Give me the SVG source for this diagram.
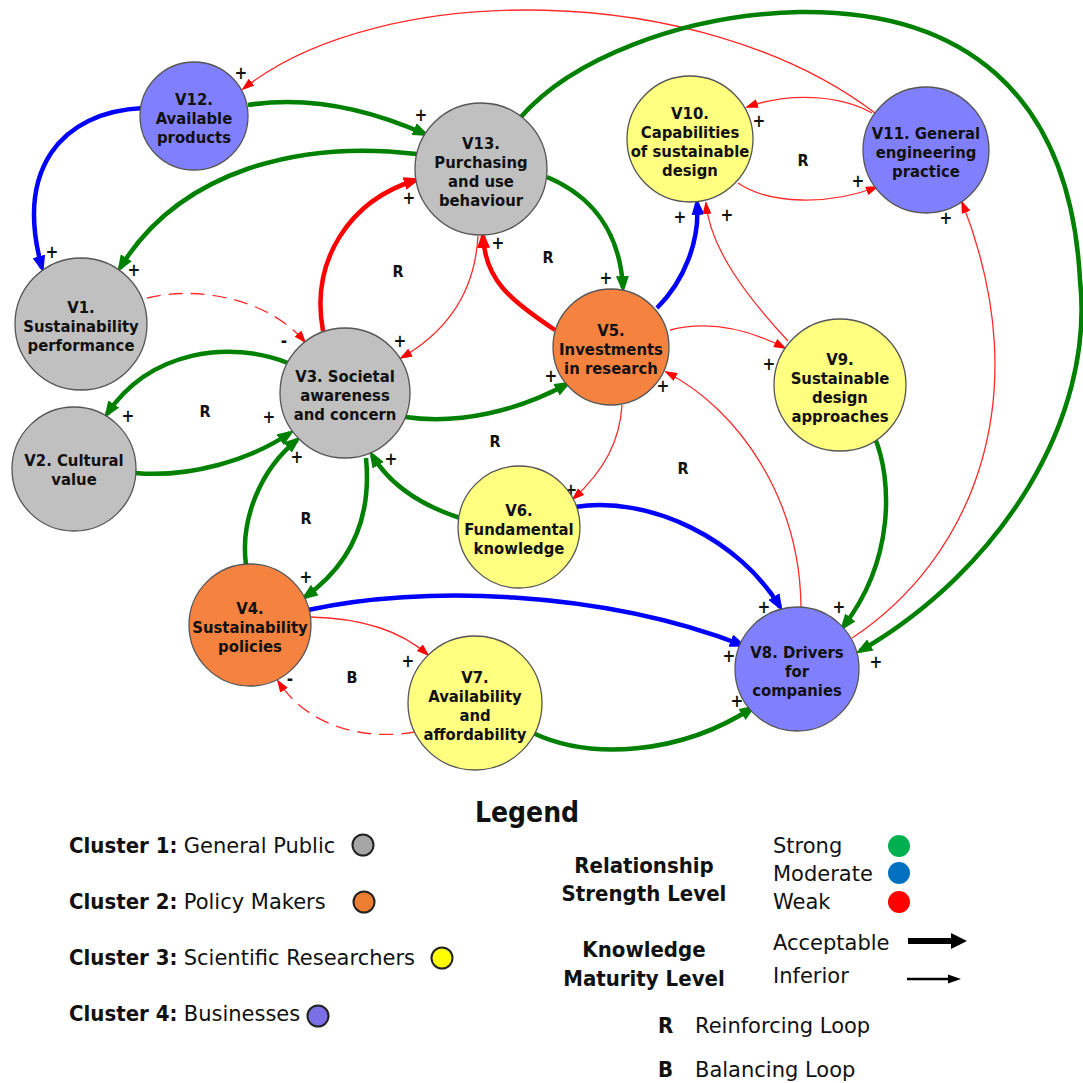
<svg xmlns="http://www.w3.org/2000/svg" width="1083" height="1083" viewBox="0 0 1083 1083">
<style>
.n{stroke:#555;stroke-width:1.3}
.gp{fill:#c0c0c0}.pm{fill:#f5823f}.sr{fill:#ffff80}.bu{fill:#8080ff}
text{font-family:"DejaVu Sans Condensed","DejaVu Sans",sans-serif;font-stretch:condensed;fill:#111}
.nt{font-size:16.5px;font-weight:bold;text-anchor:middle}
.s{font-size:17px;font-weight:bold;text-anchor:middle}
.lp{font-size:16px;font-weight:bold;text-anchor:middle}
.c{fill:none}
.G{stroke:#008000;stroke-width:4.5;marker-end:url(#mg)}
.B{stroke:#0000ff;stroke-width:4.5;marker-end:url(#mb)}
.Rk{stroke:#ff0000;stroke-width:4.5;marker-end:url(#mr)}
.r{stroke:#ff2a2a;stroke-width:1.3;marker-end:url(#mt)}
.d{stroke-dasharray:14,8}
.lg{font-size:22px}
.ln{font-family:"DejaVu Sans",sans-serif;font-stretch:normal;font-size:21px;font-weight:normal}
.b{font-weight:bold}
.lc{stroke:#222;stroke-width:2}
</style>
<defs>
<marker id="mg" markerWidth="18" markerHeight="13" refX="12" refY="6.5" orient="auto" markerUnits="userSpaceOnUse"><path d="M0,0 L17,6.5 L0,13 z" fill="#008000"/></marker>
<marker id="mb" markerWidth="18" markerHeight="13" refX="12" refY="6.5" orient="auto" markerUnits="userSpaceOnUse"><path d="M0,0 L17,6.5 L0,13 z" fill="#0000ff"/></marker>
<marker id="mr" markerWidth="18" markerHeight="13" refX="12" refY="6.5" orient="auto" markerUnits="userSpaceOnUse"><path d="M0,0 L17,6.5 L0,13 z" fill="#ff0000"/></marker>
<marker id="mt" markerWidth="13" markerHeight="9" refX="11" refY="4.5" orient="auto" markerUnits="userSpaceOnUse"><path d="M0,0 L13,4.5 L0,9 z" fill="#ff0000"/></marker>
</defs>
<rect width="1083" height="1083" fill="#ffffff"/>

<g id="connectors" class="c">
<path class="r" d="M875,113 C700,-20 380,-20 243,89"/>
<path class="G" d="M248,105 Q330,92 425,134"/>
<path class="B" d="M143,108 C60,112 15,170 42,268"/>
<path class="G" d="M417,154 C300,140 180,170 120,268"/>
<path class="G" d="M520,118 C570,60 680,15 800,12 C960,10 1070,90 1080,280 C1095,420 1000,570 860,651"/>
<path class="G" d="M547,177 C590,195 620,230 623,288"/>
<path class="Rk" d="M555,330 C510,300 485,280 483,236"/>
<path class="r" d="M478,236 C475,290 450,330 401,358"/>
<path class="Rk" d="M323,331 C310,260 350,200 416,180"/>
<path class="r d" d="M147,298 C200,285 270,300 305,342"/>
<path class="G" d="M288,363 C230,340 150,350 107,414"/>
<path class="G" d="M135,473 C190,478 250,460 290,433"/>
<path class="G" d="M246,565 C240,520 260,470 297,440"/>
<path class="G" d="M366,458 C372,520 350,565 305,597"/>
<path class="G" d="M405,417 C460,425 520,410 567,384"/>
<path class="G" d="M460,518 C420,505 390,485 372,455"/>
<path class="r" d="M622,405 C620,440 605,470 573,499"/>
<path class="B" d="M657,308 C685,280 700,240 697,203"/>
<path class="r" d="M670,330 C710,320 750,330 785,348"/>
<path class="r" d="M788,341 C750,300 710,250 706,203"/>
<path class="r" d="M872,113 C840,95 790,92 747,107"/>
<path class="r" d="M738,183 C770,205 830,205 877,187"/>
<path class="r" d="M852,638 C970,560 1040,400 962,202"/>
<path class="r" d="M801,607 C800,500 740,410 666,372"/>
<path class="B" d="M575,507 C650,495 740,540 780,607"/>
<path class="B" d="M308,610 C420,585 600,590 742,645"/>
<path class="r" d="M310,617 C360,618 400,630 428,655"/>
<path class="r d" d="M415,732 C370,740 310,730 278,681"/>
<path class="G" d="M533,733 C590,760 680,755 752,708"/>
<path class="G" d="M875,438 C892,480 895,560 843,627"/>
</g>

<g id="polarity">
<text class="s" x="241" y="79">+</text>
<text class="s" x="421" y="121">+</text>
<text class="s" x="52" y="258">+</text>
<text class="s" x="134" y="276">+</text>
<text class="s" x="409" y="204">+</text>
<text class="s" x="498" y="249">+</text>
<text class="s" x="606" y="284">+</text>
<text class="s" x="400" y="347">+</text>
<text class="s" x="284" y="347">-</text>
<text class="s" x="128" y="422">+</text>
<text class="s" x="269" y="423">+</text>
<text class="s" x="297" y="463">+</text>
<text class="s" x="391" y="465">+</text>
<text class="s" x="551" y="382">+</text>
<text class="s" x="663" y="392">+</text>
<text class="s" x="571" y="496">+</text>
<text class="s" x="680" y="223">+</text>
<text class="s" x="727" y="221">+</text>
<text class="s" x="759" y="127">+</text>
<text class="s" x="858" y="187">+</text>
<text class="s" x="946" y="224">+</text>
<text class="s" x="769" y="370">+</text>
<text class="s" x="306" y="583">+</text>
<text class="s" x="408" y="667">+</text>
<text class="s" x="290" y="685">-</text>
<text class="s" x="764" y="613">+</text>
<text class="s" x="839" y="613">+</text>
<text class="s" x="729" y="662">+</text>
<text class="s" x="737" y="707">+</text>
<text class="s" x="876" y="668">+</text>
</g>

<g id="loops">
<text class="lp" x="398" y="277">R</text>
<text class="lp" x="548" y="263">R</text>
<text class="lp" x="205" y="417">R</text>
<text class="lp" x="495" y="447">R</text>
<text class="lp" x="683" y="474">R</text>
<text class="lp" x="306" y="524">R</text>
<text class="lp" x="803" y="166">R</text>
<text class="lp" x="352" y="683">B</text>
</g>

<g id="V12"><circle class="n bu" cx="194" cy="116" r="54"/><text class="nt"><tspan x="194" y="105">V12.</tspan><tspan x="194" y="124">Available</tspan><tspan x="194" y="143">products</tspan></text></g>
<g id="V13"><circle class="n gp" cx="481" cy="169" r="66"/><text class="nt"><tspan x="481" y="148.5">V13.</tspan><tspan x="481" y="167.5">Purchasing</tspan><tspan x="481" y="186.5">and use</tspan><tspan x="481" y="205.5">behaviour</tspan></text></g>
<g id="V10"><circle class="n sr" cx="690" cy="139" r="63"/><text class="nt"><tspan x="690" y="118.5">V10.</tspan><tspan x="690" y="137.5">Capabilities</tspan><tspan x="690" y="156.5">of sustainable</tspan><tspan x="690" y="175.5">design</tspan></text></g>
<g id="V11"><circle class="n bu" cx="926" cy="150" r="63"/><text class="nt"><tspan x="926" y="139">V11. General</tspan><tspan x="926" y="158">engineering</tspan><tspan x="926" y="177">practice</tspan></text></g>
<g id="V1"><circle class="n gp" cx="81" cy="324" r="66"/><text class="nt"><tspan x="81" y="313">V1.</tspan><tspan x="81" y="332">Sustainability</tspan><tspan x="81" y="351">performance</tspan></text></g>
<g id="V2"><circle class="n gp" cx="74" cy="469" r="62"/><text class="nt"><tspan x="74" y="466">V2. Cultural</tspan><tspan x="74" y="485">value</tspan></text></g>
<g id="V3"><circle class="n gp" cx="345" cy="393" r="65"/><text class="nt"><tspan x="345" y="382">V3. Societal</tspan><tspan x="345" y="401">awareness</tspan><tspan x="345" y="420">and concern</tspan></text></g>
<g id="V5"><circle class="n pm" cx="611" cy="347" r="58"/><text class="nt"><tspan x="611" y="336">V5.</tspan><tspan x="611" y="355">Investments</tspan><tspan x="611" y="374">in research</tspan></text></g>
<g id="V6"><circle class="n sr" cx="519" cy="527" r="61"/><text class="nt"><tspan x="519" y="516">V6.</tspan><tspan x="519" y="535">Fundamental</tspan><tspan x="519" y="554">knowledge</tspan></text></g>
<g id="V9"><circle class="n sr" cx="840" cy="385" r="66"/><text class="nt"><tspan x="840" y="364.5">V9.</tspan><tspan x="840" y="383.5">Sustainable</tspan><tspan x="840" y="402.5">design</tspan><tspan x="840" y="421.5">approaches</tspan></text></g>
<g id="V4"><circle class="n pm" cx="250" cy="625" r="61"/><text class="nt"><tspan x="250" y="614">V4.</tspan><tspan x="250" y="633">Sustainability</tspan><tspan x="250" y="652">policies</tspan></text></g>
<g id="V7"><circle class="n sr" cx="475" cy="703" r="67"/><text class="nt"><tspan x="475" y="682.5">V7.</tspan><tspan x="475" y="701.5">Availability</tspan><tspan x="475" y="720.5">and</tspan><tspan x="475" y="739.5">affordability</tspan></text></g>
<g id="V8"><circle class="n bu" cx="797" cy="669" r="62"/><text class="nt"><tspan x="797" y="658">V8. Drivers</tspan><tspan x="797" y="677">for</tspan><tspan x="797" y="696">companies</tspan></text></g>

<g id="legend">
<text x="527" y="822" font-size="28" font-weight="bold" text-anchor="middle">Legend</text>
<text class="lg" x="69" y="853"><tspan class="b">Cluster 1:</tspan> <tspan class="ln">General Public</tspan></text>
<circle class="lc" cx="363" cy="845" r="10.5" fill="#a6a6a6"/>
<text class="lg" x="69" y="909"><tspan class="b">Cluster 2:</tspan> <tspan class="ln">Policy Makers</tspan></text>
<circle class="lc" cx="364" cy="902" r="10.5" fill="#ed7d31"/>
<text class="lg" x="69" y="965"><tspan class="b">Cluster 3:</tspan> <tspan class="ln">Scientific Researchers</tspan></text>
<circle class="lc" cx="442" cy="958" r="10.5" fill="#ffff00"/>
<text class="lg" x="69" y="1021"><tspan class="b">Cluster 4:</tspan> <tspan class="ln">Businesses</tspan></text>
<circle class="lc" cx="318" cy="1016" r="10.5" fill="#7b6fe6"/>

<text class="lg b" x="644" y="873" text-anchor="middle">Relationship</text>
<text class="lg b" x="644" y="901" text-anchor="middle">Strength Level</text>
<text class="lg b" x="644" y="957" text-anchor="middle">Knowledge</text>
<text class="lg b" x="644" y="986" text-anchor="middle">Maturity Level</text>

<text class="ln" x="773" y="853">Strong</text>
<text class="ln" x="773" y="881">Moderate</text>
<text class="ln" x="773" y="909">Weak</text>
<circle cx="899" cy="846" r="11" fill="#00b050"/>
<circle cx="899" cy="873" r="11" fill="#0070c0"/>
<circle cx="899" cy="902" r="11" fill="#ff0000"/>

<text class="ln" x="773" y="950">Acceptable</text>
<line x1="908" y1="941" x2="953" y2="941" stroke="#000" stroke-width="6"/>
<path d="M951,933 L967,941 L951,949 z" fill="#000"/>
<text class="ln" x="773" y="983">Inferior</text>
<line x1="907" y1="979" x2="950" y2="979" stroke="#000" stroke-width="2.5"/>
<path d="M948,974.5 L961,979 L948,983.5 z" fill="#000"/>

<text class="lg b" x="658" y="1033">R</text>
<text class="ln" x="695" y="1033">Reinforcing Loop</text>
<text class="lg b" x="658" y="1077">B</text>
<text class="ln" x="695" y="1077">Balancing Loop</text>
</g>
</svg>
